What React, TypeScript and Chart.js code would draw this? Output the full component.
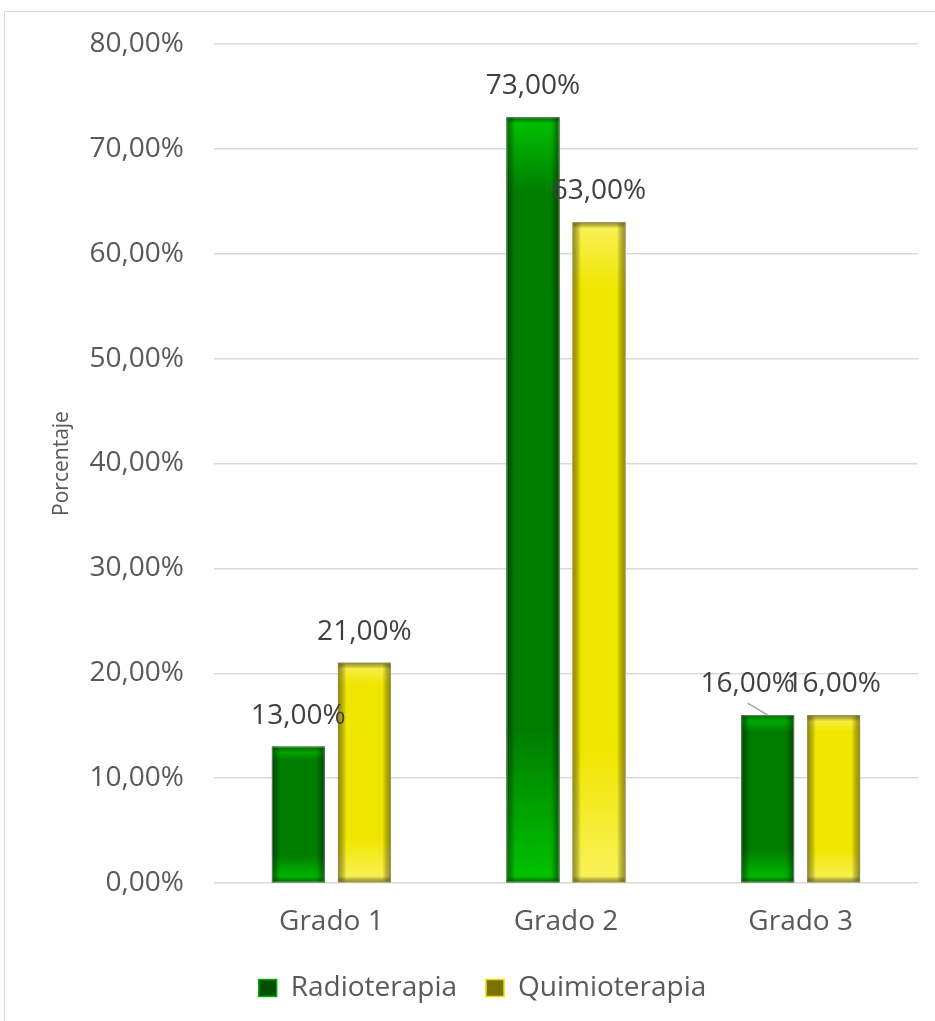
import React, { useEffect, useRef } from "react";
import { Chart, registerables } from "chart.js";

Chart.register(...registerables);

const categories = ["Grado 1", "Grado 2", "Grado 3"];
const seriesNames = ["Radioterapia", "Quimioterapia"];
const radioterapia = [13, 73, 16];
const quimioterapia = [21, 63, 16];
const yMin = 0;
const yMax = 80;
const yStep = 10;

const FONT = "'Open Sans', 'Noto Sans', sans-serif";
const TEXT = "#595959";
const LABEL = "#404040";

const shades = [
  { base: "#007c00", light: "#00c400", edge: "rgba(0,40,0,0.55)", legendFill: "#004e00", legendStroke: "#00b000" },
  { base: "#efe600", light: "#f9f25c", edge: "rgba(90,80,0,0.6)", legendFill: "#7a7000", legendStroke: "#e6e000" },
];

// horizontal nudge (px) for the data labels that were moved aside, per dataset / category
const labelNudge = [
  [0, 0, -20],
  [0, 0, 0],
];

const fmt = (v: number) => v.toFixed(2).replace(".", ",") + "%";

const barShading = {
  id: "barShading",
  afterDatasetsDraw(chart: any) {
    const ctx = chart.ctx as CanvasRenderingContext2D;
    chart.data.datasets.forEach((_ds: any, di: number) => {
      const meta = chart.getDatasetMeta(di);
      const sh = shades[di];
      meta.data.forEach((el: any) => {
        const { x, y, base, width } = el.getProps(["x", "y", "base", "width"], true);
        const l = x - width / 2;
        const h = base - y;
        ctx.save();
        let g = ctx.createLinearGradient(0, y, 0, base);
        g.addColorStop(0, sh.light);
        g.addColorStop(0.1, sh.base);
        g.addColorStop(0.8, sh.base);
        g.addColorStop(1, sh.light);
        ctx.fillStyle = g;
        ctx.fillRect(l, y, width, h);
        g = ctx.createLinearGradient(l, 0, l + width, 0);
        g.addColorStop(0, sh.edge);
        g.addColorStop(0.16, "rgba(0,0,0,0)");
        g.addColorStop(0.84, "rgba(0,0,0,0)");
        g.addColorStop(1, sh.edge);
        ctx.fillStyle = g;
        ctx.fillRect(l, y, width, h);
        const e = Math.min(6, h / 4);
        g = ctx.createLinearGradient(0, y, 0, y + e);
        g.addColorStop(0, sh.edge);
        g.addColorStop(1, "rgba(0,0,0,0)");
        ctx.fillStyle = g;
        ctx.fillRect(l, y, width, e);
        g = ctx.createLinearGradient(0, base - e, 0, base);
        g.addColorStop(0, "rgba(0,0,0,0)");
        g.addColorStop(1, sh.edge);
        ctx.fillStyle = g;
        ctx.fillRect(l, base - e, width, e);
        ctx.strokeStyle = "rgba(140,140,140,0.7)";
        ctx.lineWidth = 1;
        ctx.strokeRect(l + 0.5, y + 0.5, width - 1, h - 1);
        ctx.restore();
      });
    });
  },
};

const dataLabels = {
  id: "dataLabels",
  afterDatasetsDraw(chart: any) {
    const ctx = chart.ctx as CanvasRenderingContext2D;
    chart.data.datasets.forEach((ds: any, di: number) => {
      const meta = chart.getDatasetMeta(di);
      meta.data.forEach((el: any, i: number) => {
        const { x, y } = el.getProps(["x", "y"], true);
        const dx = labelNudge[di][i];
        const ty = y - 31;
        ctx.save();
        if (dx !== 0) {
          ctx.strokeStyle = "#a6a6a6";
          ctx.lineWidth = 1.5;
          ctx.beginPath();
          ctx.moveTo(x + dx, y - 12);
          ctx.lineTo(x, y);
          ctx.stroke();
        }
        ctx.font = `28px ${FONT}`;
        ctx.fillStyle = LABEL;
        ctx.textAlign = "center";
        ctx.textBaseline = "middle";
        ctx.fillText(fmt(ds.data[i]), x + dx, ty);
        ctx.restore();
      });
    });
  },
};

export default function App() {
  const ref = useRef<HTMLCanvasElement | null>(null);
  useEffect(() => {
    if (!ref.current) return;
    const chart = new Chart(ref.current, {
      type: "bar",
      data: {
        labels: categories,
        datasets: [
          { label: seriesNames[0], data: radioterapia, backgroundColor: shades[0].base },
          { label: seriesNames[1], data: quimioterapia, backgroundColor: shades[1].base },
        ],
      },
      options: {
        responsive: false,
        animation: false,
        devicePixelRatio: 1,
        layout: { padding: { left: 42, right: 42, top: 32, bottom: 0 } },
        datasets: { bar: { categoryPercentage: 0.5625, barPercentage: 0.8 } },
        plugins: {
          tooltip: { enabled: false },
          legend: {
            position: "bottom",
            labels: {
              font: { family: FONT, size: 28 },
              color: TEXT,
              boxWidth: 18,
              boxHeight: 17,
              padding: 29,
              generateLabels: (c: any) =>
                c.data.datasets.map((ds: any, i: number) => ({
                  text: ds.label,
                  fillStyle: shades[i].legendFill,
                  strokeStyle: shades[i].legendStroke,
                  lineWidth: 1.5,
                  fontColor: TEXT,
                  hidden: false,
                  datasetIndex: i,
                })),
            },
          },
        },
        scales: {
          x: {
            grid: { display: false },
            border: { display: false },
            ticks: { font: { family: FONT, size: 28 }, color: TEXT, padding: 14 },
            afterFit: (s: any) => {
              s.height = 62;
            },
          },
          y: {
            min: yMin,
            max: yMax,
            border: { display: false },
            grid: { drawTicks: false, color: "#d9d9d9", lineWidth: 1.5 },
            ticks: {
              stepSize: yStep,
              font: { family: FONT, size: 28 },
              color: TEXT,
              padding: 30,
              callback: (v: any) => fmt(Number(v)),
            },
            title: {
              display: true,
              text: "Porcentaje",
              font: { family: FONT, size: 21 },
              color: TEXT,
              padding: { top: 2, bottom: 15 },
            },
            afterFit: (s: any) => {
              s.width = 167;
              s.paddingTop = 0;
              s.paddingBottom = 0;
            },
          },
        },
      },
      plugins: [barShading, dataLabels],
    });
    return () => chart.destroy();
  }, []);

  return (
    <div style={{ position: "absolute", left: 0, top: 0, width: 935, height: 1021, overflow: "hidden", background: "#fff" }}>
      <div
        style={{
          position: "absolute",
          left: 4,
          top: 11,
          width: 956,
          height: 1030,
          borderTop: "1px solid #d9d9d9",
          borderLeft: "1px solid #d9d9d9",
          boxSizing: "border-box",
        }}
      >
        <canvas ref={ref} width={955} height={1000} style={{ display: "block" }} />
      </div>
    </div>
  );
}
